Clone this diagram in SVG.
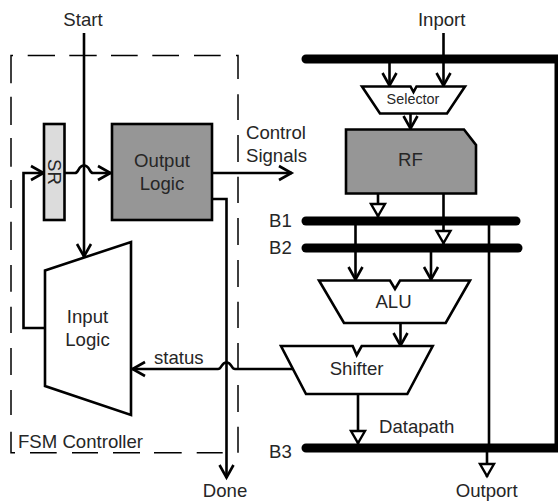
<svg xmlns="http://www.w3.org/2000/svg" width="558" height="501" viewBox="0 0 558 501">
<style>
text{font-family:"Liberation Sans",Arial,sans-serif;font-size:18.6px;fill:#262626}
.m{text-anchor:middle}
.s{fill:none;stroke:#000;stroke-width:2.6;stroke-linejoin:miter}
.b{stroke:#000;stroke-width:1.5;fill:none}
.n{stroke:#000;stroke-width:2.6;fill:#fff;stroke-linejoin:miter}
.d{fill:#969696}
.bus{stroke:#000;stroke-width:9;stroke-linecap:round;fill:none}
.oa{marker-end:url(#open)}
.ta{marker-end:url(#tri)}
</style>
<defs>
<marker id="open" markerUnits="userSpaceOnUse" viewBox="-15 -10 18 20" refX="0" refY="0" markerWidth="18" markerHeight="20" orient="auto"><path d="M-13,-7 L-0.5,0 L-13,7" fill="none" stroke="#000" stroke-width="2.6"/></marker>
<marker id="tri" markerUnits="userSpaceOnUse" viewBox="-16 -10 19 20" refX="0" refY="0" markerWidth="19" markerHeight="20" orient="auto"><path d="M-13,-7 L-1,0 L-13,7 Z" fill="#fff" stroke="#000" stroke-width="2.4"/></marker>
</defs>
<path id="fsm-boundary" class="b" d="M11,83.3V55.5H13M27.7,55.5H55M69.3,55.5H96.7M111,55.5H137.7M152.3,55.5H179M194,55.5H220.7M236,55.5H238V79M238,94.3V120M238,135V162M238,176.7V203M238,218V245M238,260V287M238,301.7V328M238,343V369M238,385V412M238,426.7V452.7M222.7,452.7H196.7M181.7,452.7H154M140,452.7H113M98,452.7H72M56.7,452.7H30M15,452.7H11V431.7M11,415V390M11,375V348M11,333V306.7M11,291.7V265M11,250V221.7M11,208V180M11,166.7V138M11,125V96.7"/>
<g id="connectors">
<path class="bus" d="M306,59H559V448H306"/>
<path class="bus" d="M306,221H516"/>
<path class="bus" d="M306,248H518"/>
<path class="s oa" d="M84,33V257"/>
<path class="s oa" d="M65,173H75C79,173 78,165.5 84,165.5C90,165.5 89,173 93,173H111"/>
<path class="s oa" d="M45,328H23.5V173H44"/>
<path class="s oa" d="M212,173H292"/>
<path class="s oa" d="M212,199H226.5V478"/>
<path class="s oa" d="M293,369H235C231,369 232,362.5 226.5,362.5C221,362.5 222,369 218,369H132"/>
<path class="s oa" d="M443.5,33V86"/>
<path class="s oa" d="M389.5,59V86"/>
<path class="s oa" d="M410.5,113V129"/>
<path class="s ta" d="M378,193V217"/>
<path class="s ta" d="M443.5,193V244"/>
<path class="s oa" d="M355.5,221V280"/>
<path class="s oa" d="M431,248V280"/>
<path class="s oa" d="M400.5,323V346"/>
<path class="s ta" d="M358,394V444"/>
<path class="s ta" d="M489,221V448H487V477"/>
</g>
<g id="sr"><rect x="44" y="124" width="20.5" height="96" fill="#dcdcdc" stroke="#000" stroke-width="2.6"/><text x="0" y="0" class="m" transform="translate(47.5,172) rotate(90)">SR</text></g>
<g id="output-logic"><rect class="n d" x="112" y="124" width="100" height="96"/><text class="m" x="162" y="167">Output</text><text class="m" x="162" y="190">Logic</text></g>
<g id="input-logic"><path class="n" d="M45,270.5L131,242V415L45,386Z"/><text class="m" x="87.5" y="323">Input</text><text class="m" x="87.5" y="346">Logic</text></g>
<g id="selector"><path class="n" d="M362,86.5H410.5L413.5,92L416.5,86.5H465L447,113.5H380Z"/><text class="m" x="413" y="104" style="font-size:14.4px">Selector</text></g>
<g id="rf"><path class="n d" d="M346,129.5H464L476,145V193.5H346Z"/><text class="m" x="410.5" y="166">RF</text></g>
<g id="alu"><path class="n" d="M319,280.5H390L395,289L400,280.5H470L445.7,323H344Z"/><text class="m" x="393.5" y="308">ALU</text></g>
<g id="shifter"><path class="n" d="M281,346H352.7L356.7,355L361.7,346H432.7L407.3,394H306Z"/><text class="m" x="356.6" y="375">Shifter</text></g>
<text class="m" x="83" y="26">Start</text>
<text class="m" x="441.7" y="26">Inport</text>
<text x="246" y="139">Control</text>
<text x="246" y="162">Signals</text>
<text x="154" y="364">status</text>
<text x="18" y="448">FSM Controller</text>
<text class="m" x="225" y="497">Done</text>
<text class="m" x="486.7" y="497">Outport</text>
<text x="379" y="433">Datapath</text>
<text x="269" y="227">B1</text>
<text x="269" y="254">B2</text>
<text x="269" y="458">B3</text>
</svg>
